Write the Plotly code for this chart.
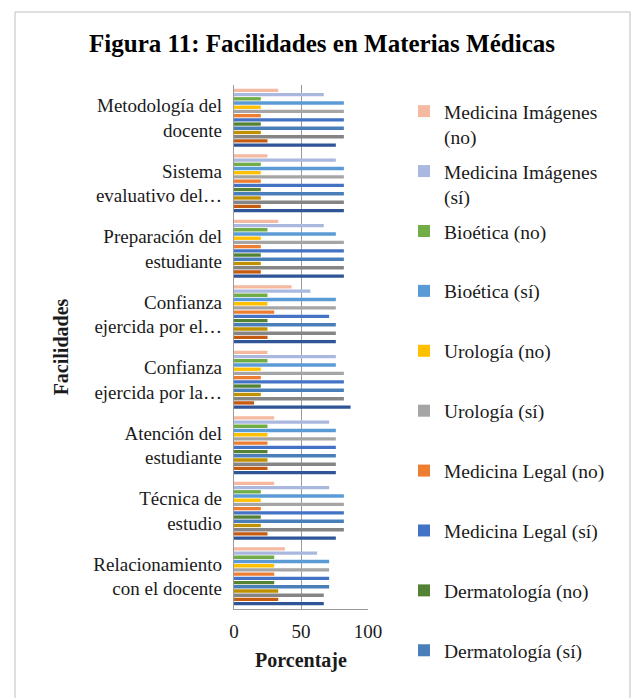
import plotly.graph_objects as go

# Categories, top to bottom
categories = [
    "Metodología del<br>docente",
    "Sistema<br>evaluativo del…",
    "Preparación del<br>estudiante",
    "Confianza<br>ejercida por el…",
    "Confianza<br>ejercida por la…",
    "Atención del<br>estudiante",
    "Técnica de<br>estudio",
    "Relacionamiento<br>con el docente",
]

x_ticks = [0, 50, 100]

# Series values (percent), in category order above
med_img_no = [33, 25, 33, 43, 25, 30, 30, 38]
med_img_si = [67, 76, 67, 57, 76, 71, 71, 62]
bioetica_no = [20, 20, 25, 25, 25, 25, 20, 30]
bioetica_si = [82, 82, 76, 76, 76, 76, 82, 71]
urologia_no = [20, 20, 20, 25, 20, 25, 20, 30]
urologia_si = [82, 82, 82, 76, 82, 76, 82, 71]
med_legal_no = [20, 20, 20, 30, 20, 25, 20, 30]
med_legal_si = [82, 82, 82, 71, 82, 76, 82, 71]
dermato_no = [20, 20, 20, 25, 20, 25, 20, 30]
dermato_si = [82, 82, 82, 76, 82, 76, 82, 71]
# further series whose legend entries are cut off in the original
serie_4 = [20, 20, 20, 25, 20, 25, 20, 33]
serie_3 = [82, 82, 82, 76, 82, 76, 82, 67]
serie_2 = [25, 20, 20, 25, 15, 25, 25, 33]
serie_1 = [76, 82, 82, 76, 87, 76, 76, 67]

series = [
    ("Medicina Imágenes<br>(no)", med_img_no, "#F4B9A0", True),
    ("Medicina Imágenes<br>(sí)", med_img_si, "#AAB8E0", True),
    ("Bioética (no)<br> ", bioetica_no, "#70AD47", True),
    ("Bioética (sí)<br> ", bioetica_si, "#5B9BD5", True),
    ("Urología (no)<br> ", urologia_no, "#FFC000", True),
    ("Urología (sí)<br> ", urologia_si, "#A5A5A5", True),
    ("Medicina Legal (no)<br> ", med_legal_no, "#ED7D31", True),
    ("Medicina Legal (sí)<br> ", med_legal_si, "#4472C4", True),
    ("Dermatología (no)<br> ", dermato_no, "#548235", True),
    ("Dermatología (sí)<br> ", dermato_si, "#4A7EB8", True),
    ("Serie 4", serie_4, "#BF9000", False),
    ("Serie 3", serie_3, "#858585", False),
    ("Serie 2", serie_2, "#C55A11", False),
    ("Serie 1", serie_1, "#2F5597", False),
]

fig = go.Figure()
for i, (name, vals, color, show) in enumerate(series):
    fig.add_trace(go.Bar(
        y=categories, x=vals, name=name, orientation="h",
        marker=dict(color=color, line=dict(width=0)),
        showlegend=show, legendgroup="g%d" % i,
    ))

# figure is drawn inside the page's 8px body margin
W, H = 634, 690
L, R, T, B = 226, 360, 77, 601
def px(xp):
    return (xp - L) / (R - L)
def py(yp):
    return (B - yp) / (B - T)

SERIF = "Liberation Serif, Times New Roman, serif"
TXT = "#1a1a1a"

fig.update_layout(
    width=W, height=H,
    margin=dict(l=L, r=W - R, t=T, b=H - B, autoexpand=False),
    paper_bgcolor="white", plot_bgcolor="white",
    barmode="group", bargap=0.1, bargroupgap=0.2,
    font=dict(family=SERIF, size=19, color=TXT),
    title=dict(text="<b>Figura 11: Facilidades en Materias Médicas</b>",
               x=(314 / W), xanchor="center", y=1 - 35 / H, yanchor="middle",
               font=dict(family=SERIF, size=25, color="#000000")),
    legend=dict(x=px(396), xanchor="left", yref="container", y=1 - 84 / H, yanchor="top",
                traceorder="grouped", tracegroupgap=6.2, valign="top",
                font=dict(family=SERIF, size=19.5, color=TXT),
                itemwidth=30, bgcolor="rgba(0,0,0,0)", maxheight=900),
    shapes=[dict(type="rect", xref="paper", yref="paper",
                 x0=px(7), x1=px(622), y0=py(760), y1=py(4),
                 line=dict(color="#BFBFBF", width=1), layer="below")],
)

fig.update_xaxes(
    range=[0, 100], tickvals=x_ticks, ticktext=[str(v) for v in x_ticks],
    showgrid=True, gridcolor="#9A9A9A", gridwidth=1.3,
    showline=True, linecolor="#9A9A9A", linewidth=1.3,
    zeroline=False, ticks="", ticklabelstandoff=5,
    tickfont=dict(family=SERIF, size=19, color=TXT),
    title=dict(text="<b>Porcentaje</b>", standoff=12,
               font=dict(family=SERIF, size=20, color=TXT)),
    fixedrange=True,
)
fig.update_yaxes(
    autorange="reversed", showgrid=False,
    showline=True, linecolor="#9A9A9A", linewidth=1.3,
    ticks="", ticklabelstandoff=7,
    tickfont=dict(family=SERIF, size=19, color=TXT),
    title=dict(text="<b>Facilidades</b>", standoff=19,
               font=dict(family=SERIF, size=20, color=TXT)),
    fixedrange=True,
)

fig.write_html("out.html")
